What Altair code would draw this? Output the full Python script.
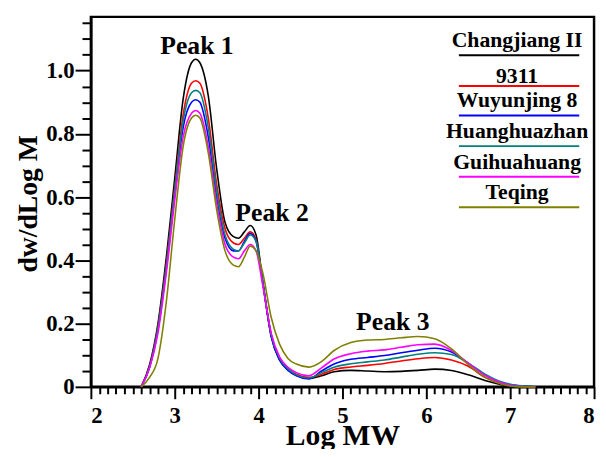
import altair as alt
import pandas as pd

# ---- data ----
log_mw = [2.6, 2.7, 2.8, 2.9, 3.0, 3.1, 3.2, 3.25, 3.3, 3.4, 3.5, 3.6, 3.7, 3.76, 3.83, 3.9, 3.97,
          4.05, 4.15, 4.25, 4.35, 4.45, 4.6, 4.75, 4.9, 5.1, 5.3, 5.5, 5.7, 5.9, 6.1, 6.3, 6.5,
          6.7, 6.9, 7.1, 7.3]

changjiang = [0, .07, .20, .41, .66, .91, 1.025, 1.036, 1.025, .92, .69, .52, .475, .47, .49, .51, .48,
              .33, .16, .085, .055, .037, .027, .035, .048, .052, .050, .048, .049, .052, .056, .052, .038,
              .02, .007, .001, 0]
r9311 = [0, .065, .19, .39, .63, .86, .96, .968, .96, .85, .64, .50, .455, .45, .47, .49, .465,
         .33, .165, .09, .058, .04, .03, .04, .055, .063, .068, .074, .082, .089, .093, .085, .065,
         .03, .01, .002, 0]
wuyunjing = [0, .062, .18, .375, .61, .82, .90, .908, .90, .79, .60, .47, .43, .43, .46, .485, .46,
             .33, .16, .085, .052, .035, .025, .05, .072, .087, .093, .099, .108, .116, .122, .11, .075,
             .038, .013, .003, 0]
huanghuazhan = [0, .063, .185, .38, .62, .84, .93, .9375, .93, .82, .62, .48, .435, .43, .455, .48, .46,
                .33, .165, .09, .057, .038, .028, .045, .062, .073, .079, .085, .094, .103, .108, .102, .075,
                .04, .015, .004, 0]
guihuahuang = [0, .06, .17, .36, .59, .79, .865, .874, .865, .76, .58, .45, .41, .405, .43, .45, .43,
               .32, .17, .095, .062, .045, .035, .06, .088, .105, .113, .117, .125, .133, .135, .115, .075,
               .036, .012, .002, 0]
teqing = [0, .03, .09, .27, .53, .76, .85, .859, .85, .74, .56, .43, .385, .38, .41, .445, .43,
          .36, .22, .135, .09, .072, .0625, .08, .115, .14, .148, .15, .155, .159, .152, .12, .07,
          .03, .008, 0, 0]

series_names = ["Changjiang II", "9311", "Wuyunjing 8", "Huanghuazhan", "Guihuahuang", "Teqing"]
series_values = [changjiang, r9311, wuyunjing, huanghuazhan, guihuahuang, teqing]
series_colors = ["#000000", "#ff0000", "#0000ff", "#008080", "#ff00ff", "#808000"]

peak_labels = ["Peak 1", "Peak 2", "Peak 3"]
peak_x = [3.265, 4.16, 5.60]
peak_y = [1.053, 0.526, 0.181]

x_major = [2, 3, 4, 5, 6, 7, 8]
x_minor = [round(2 + i * 0.1, 1) for i in range(1, 60) if i % 10 != 0]
y_major = [0, 0.2, 0.4, 0.6, 0.8, 1.0]
y_minor = [round(i * 0.05, 2) for i in range(1, 24) if i % 4 != 0]

# ---- layout constants (pixels inside the plot area) ----
legend_line_y = [39, 70, 100, 131, 162, 193]
legend_text_gap = [8, 2.5, 9, 8, 8, 8]

rows = []
for name, ys in zip(series_names, series_values):
    for x, y in zip(log_mw, ys):
        rows.append({"series": name, "logmw": x, "val": y})
df = pd.DataFrame(rows)

leg_df = pd.DataFrame({
    "series": series_names,
    "ly": legend_line_y,
    "ty": [a - b for a, b in zip(legend_line_y, legend_text_gap)],
})
peak_df = pd.DataFrame({"label": peak_labels, "x": peak_x, "y": peak_y})

FONT = "Liberation Serif"
xscale = alt.Scale(domain=[2, 8], nice=False, zero=False)
yscale = alt.Scale(domain=[0, 1.17], nice=False, zero=False)
color = alt.Color("series:N", scale=alt.Scale(domain=series_names, range=series_colors), legend=None)

lines = alt.Chart(df).mark_line(interpolate="monotone", strokeWidth=1.6).encode(
    x=alt.X("logmw:Q", scale=xscale,
            axis=alt.Axis(values=x_major, format="d", tickSize=12, labelPadding=6,
                          title="Log MW", titleFontSize=30, titleY=58, titleBaseline="alphabetic",
                          orient="bottom")),
    y=alt.Y("val:Q", scale=yscale,
            axis=alt.Axis(values=y_major, labelExpr="datum.value == 0 ? '0' : format(datum.value, '.1f')",
                          tickSize=16, labelPadding=1, title="dw/dLog M", titleFontSize=28,
                          titleX=-55, titleY=189, titleBaseline="alphabetic", orient="left")),
    color=color,
)

minor = alt.Chart(df).mark_line(strokeOpacity=0).encode(
    x=alt.X("logmw:Q", scale=xscale,
            axis=alt.Axis(values=x_minor, labels=False, tickSize=7, domain=False, title=None,
                          orient="bottom")),
    y=alt.Y("val:Q", scale=yscale,
            axis=alt.Axis(values=y_minor, labels=False, tickSize=9, domain=False, title=None,
                          orient="left")),
)

peaks = alt.Chart(peak_df).mark_text(font=FONT, fontWeight="bold", fontSize=26, baseline="alphabetic",
                                     align="center", color="black").encode(
    x=alt.X("x:Q", scale=xscale, axis=None),
    y=alt.Y("y:Q", scale=yscale, axis=None),
    text="label:N",
)

legend_rules = alt.Chart(leg_df).mark_rule(strokeWidth=2).encode(
    x=alt.value(373), x2=alt.value(495),
    y=alt.Y("ly:Q", scale=None, axis=None),
    color=color,
)
legend_text = alt.Chart(leg_df).mark_text(font=FONT, fontWeight="bold", fontSize=22, baseline="alphabetic",
                                          align="center", color="black").encode(
    x=alt.value(432),
    y=alt.Y("ty:Q", scale=None, axis=None),
    text="series:N",
)

chart = alt.layer(lines, minor, peaks, legend_rules, legend_text).resolve_axis(
    x="independent", y="independent"
).properties(
    width=510, height=375,
    padding={"left": 84, "top": 6, "right": 4, "bottom": 60},
    autosize=alt.AutoSizeParams(type="none"),
).configure(font=FONT).configure_axis(
    domainColor="black", domainWidth=2.5, tickColor="black", tickWidth=2,
    labelColor="black", titleColor="black", labelFont=FONT, labelFontWeight="bold",
    labelFontSize=23, titleFont=FONT, titleFontWeight="bold", grid=False,
).configure_view(stroke="black", strokeWidth=2.5)

chart.save("out.html", embed_options={"renderer": "svg", "actions": False})
